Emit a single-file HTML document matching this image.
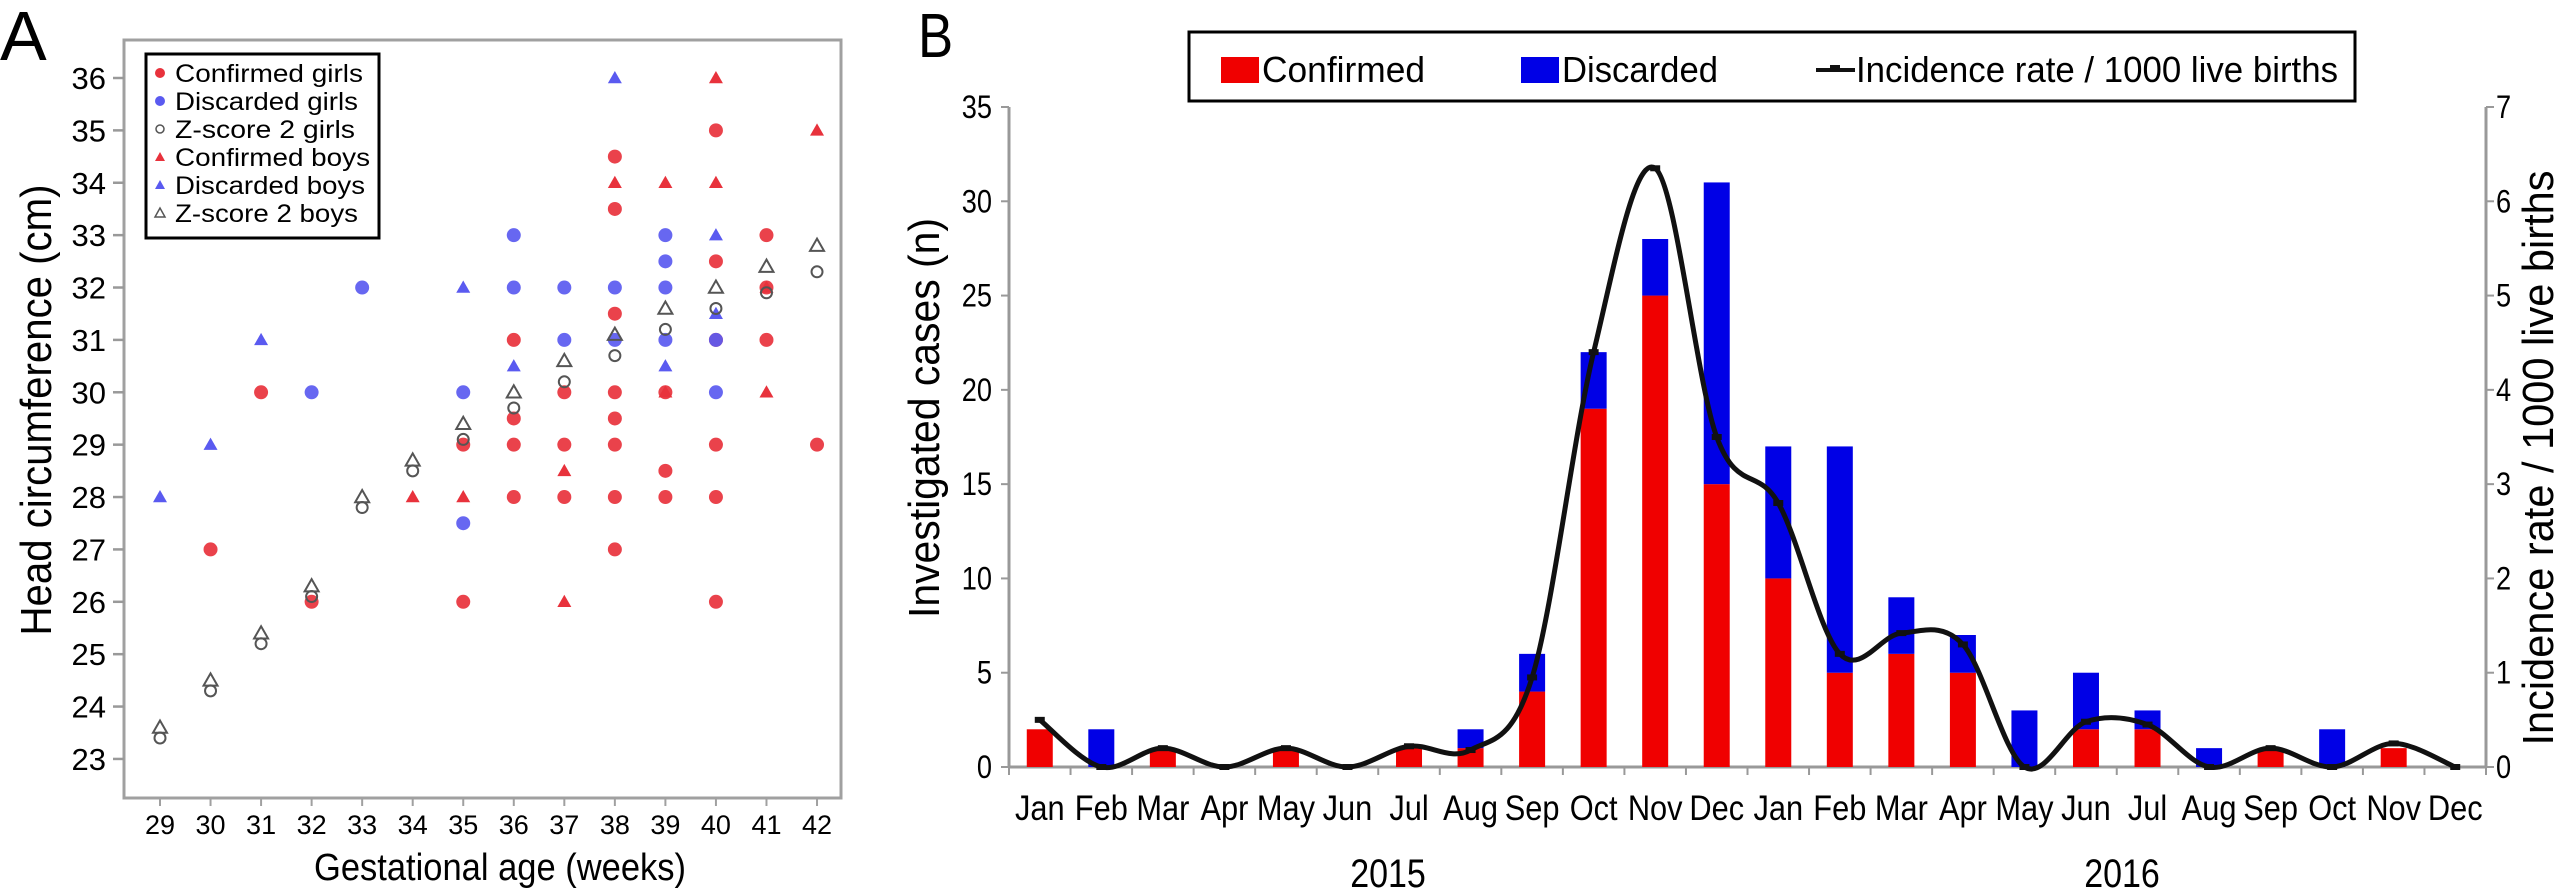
<!DOCTYPE html>
<html><head><meta charset="utf-8"><style>
body{margin:0;background:#fff;}
svg{display:block;font-family:"Liberation Sans",sans-serif;}
</style></head><body>
<svg id="chart" width="2568" height="896" viewBox="0 0 2568 896" xmlns="http://www.w3.org/2000/svg">
<g id="panelA"></g>
<g id="panelB"></g>
</svg>
<script>
// ---------- Panel A data ----------
const weeks = [29,30,31,32,33,34,35,36,37,38,39,40,41,42];
const yTicksA = [23,24,25,26,27,28,29,30,31,32,33,34,35,36];
const confGirlsX = [30,31,32,35,35,36,36,36,36,37,37,37,38,38,38,38,38,38,38,38,39,39,39,40,40,40,40,40,40,41,41,41,42];
const confGirlsY = [27,30,26,29,26,31,29.5,29,28,30,29,28,34.5,33.5,31.5,30,29.5,29,28,27,30,28.5,28,35,32.5,31,29,28,26,33,32,31,29];
const discGirlsX = [32,33,35,35,36,36,37,37,38,38,39,39,39,39,40,40];
const discGirlsY = [30,32,30,27.5,33,32,32,31,32,31,33,32.5,32,31,31,30];
const zGirlsY = [23.4,24.3,25.2,26.1,27.8,28.5,29.1,29.7,30.2,30.7,31.2,31.6,31.9,32.3];
const confBoysX = [34,35,37,37,38,39,39,40,40,41,41,42];
const confBoysY = [28,28,28.5,26,34,34,30,36,34,30,32,35];
const discBoysX = [29,30,31,35,36,38,39,40,40];
const discBoysY = [28,29,31,32,30.5,36,30.5,33,31.5];
const zBoysY = [23.6,24.5,25.4,26.3,28.0,28.7,29.4,30.0,30.6,31.1,31.6,32.0,32.4,32.8];

// ---------- Panel B data ----------
const months = ["Jan","Feb","Mar","Apr","May","Jun","Jul","Aug","Sep","Oct","Nov","Dec","Jan","Feb","Mar","Apr","May","Jun","Jul","Aug","Sep","Oct","Nov","Dec"];
const confirmed = [2,0,1,0,1,0,1,1,4,19,25,15,10,5,6,5,0,2,2,0,1,0,1,0];
const discarded = [0,2,0,0,0,0,0,1,2,3,3,16,7,12,3,2,3,3,1,1,0,2,0,0];
const incidence = [0.5,0,0.2,0,0.2,0,0.22,0.18,0.95,4.4,6.35,3.5,2.8,1.2,1.42,1.3,0,0.48,0.45,0,0.2,0,0.25,0];
const yTicksB = [0,5,10,15,20,25,30,35];
const yTicksR = [0,1,2,3,4,5,6,7];

const NS="http://www.w3.org/2000/svg";
function mk(tag, parent, attrs){const e=document.createElementNS(NS,tag);for(const k in attrs)e.setAttribute(k,attrs[k]);parent.appendChild(e);return e;}

// ===== Panel A =====
const A=document.getElementById('panelA');
const xA=w=>160+(w-29)*50.54;
const yA=v=>78+(36-v)*52.38;
let t=mk('text',A,{x:0,y:60,'font-size':70});t.textContent='A';


let fr=mk('rect',A,{x:124,y:40,width:717,height:758,fill:'none',stroke:'#a0a0a0','stroke-width':3});


yTicksA.forEach(v=>{
  mk('line',A,{x1:113,x2:124,y1:yA(v),y2:yA(v),stroke:'#999','stroke-width':2.5});
  const e=mk('text',A,{x:106,y:yA(v)+11,'font-size':31,'text-anchor':'end'});e.textContent=v;
  
  
});
weeks.forEach(w=>{
  mk('line',A,{x1:xA(w),x2:xA(w),y1:798,y2:806,stroke:'#a0a0a0','stroke-width':2});
  const e=mk('text',A,{x:xA(w),y:834,'font-size':27,'text-anchor':'middle'});e.textContent=w;
  
  
});
t=mk('text',A,{x:0,y:0,'font-size':44,'text-anchor':'middle',transform:'translate(51,410) rotate(-90)',textLength:451,lengthAdjust:'spacingAndGlyphs'});t.textContent='Head circumference (cm)';


t=mk('text',A,{x:500,y:880,'font-size':38,'text-anchor':'middle',textLength:372,lengthAdjust:'spacingAndGlyphs'});t.textContent='Gestational age (weeks)';



const RED='#e8323c',BLUE='#5a5af0',GRAY='#555';
function circle(g,x,y,fill,open){mk('circle',g,{cx:x,cy:y,r:open?5.5:7,fill:open?'none':fill,stroke:open?GRAY:'none','stroke-width':2,opacity:open?1:0.92});}
function tri(g,x,y,fill,open){const s=7;mk('polygon',g,{points:`${x},${y-s} ${x-s},${y+s*0.75} ${x+s},${y+s*0.75}`,fill:open?'none':fill,stroke:open?GRAY:'none','stroke-width':2});}
function series(name,xs,ys,fn,col,open){
  const g=mk('g',A,{});
  
  
  ys.forEach((v,i)=>fn(g,xA(xs[i]),yA(v),col,open));
}
series('confirmed-girls-points',confGirlsX,confGirlsY,circle,RED,false);
series('discarded-girls-points',discGirlsX,discGirlsY,circle,BLUE,false);
series('confirmed-boys-points',confBoysX,confBoysY,tri,RED,false);
series('discarded-boys-points',discBoysX,discBoysY,tri,BLUE,false);
series('zscore-girls-points',weeks,zGirlsY,circle,GRAY,true);
series('zscore-boys-points',weeks,zBoysY,tri,GRAY,true);

const legA=mk('g',A,{});


mk('rect',legA,{x:146,y:54,width:233,height:184,fill:'#fff',stroke:'#000','stroke-width':3});
const legLabels=['Confirmed girls','Discarded girls','Z-score 2 girls','Confirmed boys','Discarded boys','Z-score 2 boys'];
const legLens=[188,183,180,195,190,183];
const legFns=[[circle,RED,false],[circle,BLUE,false],[circle,GRAY,true],[tri,RED,false],[tri,BLUE,false],[tri,GRAY,true]];
legLabels.forEach((l,i)=>{
  const y=73+i*28;
  const g=mk('g',legA,{});
  
  
  const f=legFns[i];
  if(f[0]===circle) mk('circle',g,{cx:160,cy:y,r:f[2]?4:5,fill:f[2]?'none':f[1],stroke:f[2]?GRAY:'none','stroke-width':1.5});
  else mk('polygon',g,{points:`160,${y-5} 155,${y+4} 165,${y+4}`,fill:f[2]?'none':f[1],stroke:f[2]?GRAY:'none','stroke-width':1.5});
  const e=mk('text',g,{x:175,y:y+9,'font-size':25,textLength:legLens[i],lengthAdjust:'spacingAndGlyphs'});e.textContent=l;
});

// ===== Panel B =====
const B=document.getElementById('panelB');
const x0=1009,x1=2486,yb0=767,yb1=107;
const band=(x1-x0)/months.length;
const xB=i=>x0+band*(i+0.5);
const yL=v=>yb0-(v/35)*(yb0-yb1);
const yR=v=>yb0-(v/7)*(yb0-yb1);
t=mk('text',B,{x:0,y:0,'font-size':62,transform:'translate(918,57) scale(0.85,1)'});t.textContent='B';


const ax=mk('g',B,{});


mk('line',ax,{x1:x0,x2:x0,y1:yb1,y2:yb0,stroke:'#999','stroke-width':3});
mk('line',ax,{x1:x1,x2:x1,y1:yb1,y2:yb0,stroke:'#999','stroke-width':3});
mk('line',ax,{x1:x0,x2:x1,y1:yb0,y2:yb0,stroke:'#999','stroke-width':3});
yTicksB.forEach(v=>{
  mk('line',ax,{x1:x0-8,x2:x0,y1:yL(v),y2:yL(v),stroke:'#999','stroke-width':2});
  const e=mk('text',B,{x:0,y:0,'font-size':32,'text-anchor':'end',transform:`translate(${x0-17},${yL(v)+11}) scale(0.85,1)`});e.textContent=v;
  
  
});
yTicksR.forEach(v=>{
  mk('line',ax,{x1:x1,x2:x1+8,y1:yR(v),y2:yR(v),stroke:'#999','stroke-width':2});
  const e=mk('text',B,{x:0,y:0,'font-size':32,transform:`translate(${x1+10},${yR(v)+11}) scale(0.85,1)`});e.textContent=v;
  
  
});
for(let i=0;i<=months.length;i++){const x=x0+band*i;mk('line',ax,{x1:x,x2:x,y1:yb0,y2:yb0+8,stroke:'#999','stroke-width':2});}
months.forEach((m,i)=>{
  const e=mk('text',B,{x:0,y:0,'font-size':35,'text-anchor':'middle',transform:`translate(${xB(i)},${820}) scale(0.88,1)`});e.textContent=m;
  
  
});
[['2015',1388],['2016',2122]].forEach(([s,x])=>{
  const e=mk('text',B,{x:0,y:0,'font-size':40,'text-anchor':'middle',transform:`translate(${x},887) scale(0.85,1)`});e.textContent=s;
  
  
});
t=mk('text',B,{x:0,y:0,'font-size':44,'text-anchor':'middle',transform:'translate(939,418) rotate(-90)',textLength:400,lengthAdjust:'spacingAndGlyphs'});t.textContent='Investigated cases (n)';


t=mk('text',B,{x:0,y:0,'font-size':44,'text-anchor':'middle',transform:'translate(2553,458) rotate(-90)',textLength:575,lengthAdjust:'spacingAndGlyphs'});t.textContent='Incidence rate / 1000 live births';



const bw=26;
months.forEach((m,i)=>{
  const c=confirmed[i],d=discarded[i];
  if(c>0){const r=mk('rect',B,{x:xB(i)-bw/2,y:yL(c),width:bw,height:yL(0)-yL(c),fill:'#f00000'});
    
    }
  if(d>0){const r=mk('rect',B,{x:xB(i)-bw/2,y:yL(c+d),width:bw,height:yL(c)-yL(c+d),fill:'#0000e6'});
    
    }
});
// smooth line (Catmull-Rom)
const pts=incidence.map((v,i)=>[xB(i),yR(v)]);
let d=`M${pts[0][0]},${pts[0][1]}`;
for(let i=0;i<pts.length-1;i++){
  const p0=pts[Math.max(0,i-1)],p1=pts[i],p2=pts[i+1],p3=pts[Math.min(pts.length-1,i+2)];
  const c1=[p1[0]+(p2[0]-p0[0])/6,p1[1]+(p2[1]-p0[1])/6];
  const c2=[p2[0]-(p3[0]-p1[0])/6,p2[1]-(p3[1]-p1[1])/6];
  d+=` C${c1[0]},${c1[1]} ${c2[0]},${c2[1]} ${p2[0]},${p2[1]}`;
}
const ln=mk('path',B,{d:d,fill:'none',stroke:'#111','stroke-width':5});


pts.forEach(p=>{
  const mkr=mk('line',B,{x1:p[0]-5,x2:p[0]+5,y1:p[1],y2:p[1],stroke:'#111','stroke-width':6});
  
  
});

// legend B
const lg=mk('g',B,{});


mk('rect',lg,{x:1189,y:32,width:1166,height:69,fill:'#fff',stroke:'#000','stroke-width':3});
mk('rect',lg,{x:1221,y:57,width:38,height:26,fill:'#f00000'});
let e=mk('text',lg,{x:1262,y:82,'font-size':36,textLength:163,lengthAdjust:'spacingAndGlyphs'});e.textContent='Confirmed';
mk('rect',lg,{x:1521,y:57,width:38,height:26,fill:'#0000e6'});
e=mk('text',lg,{x:1562,y:82,'font-size':36,textLength:156,lengthAdjust:'spacingAndGlyphs'});e.textContent='Discarded';
mk('line',lg,{x1:1816,x2:1855,y1:70,y2:70,stroke:'#111','stroke-width':4});
mk('line',lg,{x1:1830,x2:1840,y1:68,y2:68,stroke:'#111','stroke-width':6});
e=mk('text',lg,{x:1856,y:82,'font-size':36,textLength:482,lengthAdjust:'spacingAndGlyphs'});e.textContent='Incidence rate / 1000 live births';
</script>
</body></html>
